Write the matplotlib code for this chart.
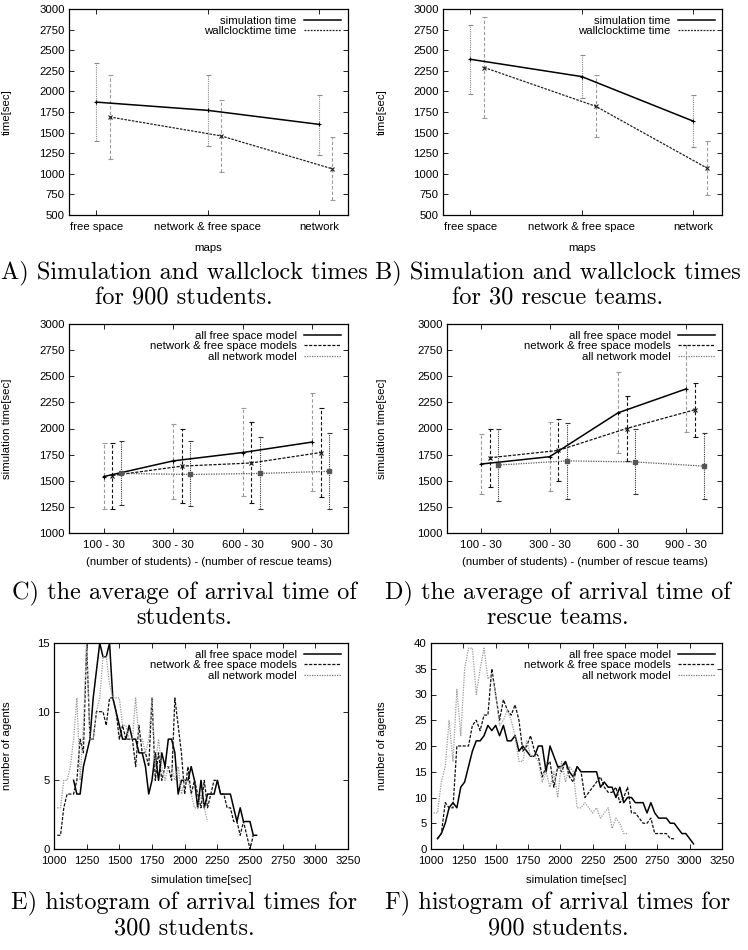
import numpy as np
import matplotlib
matplotlib.use("Agg")
import matplotlib.pyplot as plt
from matplotlib.lines import Line2D

plt.rcParams['font.family'] = ['Liberation Sans', 'DejaVu Sans']
plt.rcParams['font.size'] = 8.2

# --- A / B : simulation vs wallclock per map type ---
maps = ["free space", "network & free space", "network"]

a_sim = [1870, 1770, 1600]
a_sim_lo = [1400, 1340, 1230]
a_sim_hi = [2340, 2200, 1960]
a_wall = [1690, 1460, 1060]
a_wall_lo = [1180, 1020, 680]
a_wall_hi = [2200, 1900, 1450]

b_sim = [2390, 2180, 1640]
b_sim_lo = [1970, 1920, 1330]
b_sim_hi = [2800, 2440, 1960]
b_wall = [2290, 1820, 1070]
b_wall_lo = [1680, 1450, 740]
b_wall_hi = [2900, 2200, 1400]

# --- C / D : average arrival time per population ---
groups = ["100 - 30", "300 - 30", "600 - 30", "900 - 30"]

c_free = [1540, 1690, 1770, 1870]
c_free_lo = [1230, 1330, 1350, 1400]
c_free_hi = [1860, 2040, 2200, 2340]
c_mix = [1550, 1640, 1670, 1770]
c_mix_lo = [1230, 1290, 1290, 1340]
c_mix_hi = [1860, 2000, 2060, 2200]
c_net = [1570, 1560, 1570, 1590]
c_net_lo = [1270, 1260, 1230, 1230]
c_net_hi = [1880, 1880, 1920, 1960]

d_free = [1660, 1730, 2150, 2380]
d_free_lo = [1370, 1400, 1770, 1970]
d_free_hi = [1950, 2060, 2540, 2800]
d_mix = [1720, 1790, 2000, 2180]
d_mix_lo = [1440, 1500, 1690, 1920]
d_mix_hi = [2000, 2090, 2310, 2440]
d_net = [1650, 1690, 1680, 1640]
d_net_lo = [1310, 1330, 1370, 1330]
d_net_hi = [2000, 2050, 2000, 1960]

# --- E / F : histograms of arrival times ---
e_step = 25
e_free_start, e_mix_start, e_net_start = 1150, 1025, 1025
e_free = [5, 4, 4, 6, 7, 8, 11, 13, 15, 14, 14, 15, 11, 10, 9, 8, 8, 9, 8, 8,
          7, 7, 6, 4, 5, 7, 5, 7, 6, 8, 8, 7, 4, 5,
          5, 5, 6, 5, 3, 5, 3, 4, 4, 4, 5, 4, 4, 4, 4, 3, 2, 3, 2, 2, 2, 1, 1]
e_mix = [1, 1, 3, 4, 4, 4, 5, 8, 7, 15, 8, 8, 10, 10, 10, 9, 11, 11, 10, 8,
         9, 8, 8, 8, 6, 9, 7, 7, 6, 11, 5, 7, 5, 6, 6, 5, 11, 9, 7, 4,
         6, 4, 5, 4, 3, 5, 3, 4, 5, 5, 4, 4, 3, 3, 2, 2, 1, 2, 1, 0, 1]
e_net = [3, 3, 5, 5, 6, 8, 11, 5, 9, 15, 8, 8, 10, 11, 14, 14, 12, 11, 11, 11,
         9, 9, 8, 8, 11, 8, 8, 7, 8, 11, 6, 8, 6, 5, 6, 6, 5, 6, 4, 5,
         5, 4, 3, 3, 4, 3, 2]

f_step = 30
f_free_start, f_mix_start, f_net_start = 1050, 1050, 1020
f_free = [2, 3, 5, 8, 9, 8, 12, 13, 16, 19, 21, 21, 22, 24, 23, 24, 22, 24, 21, 21,
          22, 19, 20, 19, 18, 18, 20, 20, 15, 20, 18, 16, 16, 17, 15, 14, 16, 15, 15, 15,
          15, 15, 12, 13, 12, 12, 10, 12, 9, 10, 10, 9, 9, 9, 7, 9, 7, 6, 6, 6,
          5, 5, 4, 3, 3, 2, 1]
f_mix = [2, 3, 9, 8, 8, 20, 20, 20, 20, 24, 25, 23, 26, 26, 35, 30, 25, 29, 27, 26,
         28, 25, 19, 20, 22, 19, 18, 14, 16, 17, 12, 16, 15, 17, 14, 13, 16, 15, 10, 11,
         12, 13, 14, 12, 11, 11, 12, 9, 10, 12, 7, 7, 6, 5, 5, 6, 3, 3, 3, 3, 2, 2]
f_net = [7, 7, 13, 16, 25, 17, 31, 22, 35, 39, 39, 30, 35, 39, 33, 34, 30, 24, 25, 27,
         25, 22, 17, 17, 21, 18, 18, 17, 13, 15, 12, 15, 10, 17, 13, 16, 15, 8, 8, 9,
         8, 7, 8, 6, 7, 8, 4, 6, 5, 3, 3]

W, H = 748, 950
fig = plt.figure(figsize=(W / 100, H / 100), dpi=100)


def box(l, r, t, b):
    return [l / W, 1 - b / H, (r - l) / W, (b - t) / H]


def style_axes(ax):
    ax.tick_params(direction='in', top=True, right=True, length=3.5, width=0.6,
                   labelsize=8.2, pad=3)
    ax.tick_params(axis='x', pad=5)
    for s in ax.spines.values():
        s.set_linewidth(0.9)


def errbars(ax, x, lo, hi, color, ls):
    y = [(l + h) / 2 for l, h in zip(lo, hi)]
    err = [[m - l for m, l in zip(y, lo)], [h - m for m, h in zip(y, hi)]]
    eb = ax.errorbar(x, y, yerr=err, fmt='none', ecolor=color, elinewidth=0.8,
                     capsize=1.8, capthick=0.8)
    eb[2][0].set_linestyle(ls)


def times_panel(ax, sim, slo, shi, wall, wlo, whi, off):
    x = np.arange(len(maps))
    errbars(ax, x, slo, shi, '#8a8a8a', (0, (1, 1)))
    errbars(ax, x + off, wlo, whi, '#9a9a9a', (0, (3, 2)))
    ax.plot(x, sim, color='black', lw=1.1, marker='+', ms=3, mew=0.8)
    ax.plot(x + off, wall, color='#222222', lw=0.9, ls=(0, (2, 1)), marker='x', ms=2.5, mew=0.8)
    ax.set_xlim(-0.245, 2.26)
    ax.set_ylim(500, 3000)
    ax.set_yticks(np.arange(500, 3001, 250))
    ax.set_xticks(x)
    ax.set_xticklabels(maps)
    ax.set_xlabel("maps")
    ax.set_ylabel("time[sec]")
    hs = [Line2D([], [], color='black', lw=1.1),
          Line2D([], [], color='#222222', lw=0.9, ls=(0, (1.5, 1)))]
    ax.legend(hs, ["simulation time", "wallclocktime time"], loc='upper right',
              frameon=False, markerfirst=False, handlelength=3.3, handletextpad=0.6,
              labelspacing=0.05, borderaxespad=0.2, fontsize=8.2)
    style_axes(ax)


def avg_panel(ax, free, flo, fhi, mix, mlo, mhi, net, nlo, nhi):
    x = np.arange(len(groups))
    errbars(ax, x, flo, fhi, '#9a9a9a', (0, (3, 2)))
    errbars(ax, x + 0.125, mlo, mhi, '#111111', (0, (3, 2)))
    errbars(ax, x + 0.25, nlo, nhi, '#333333', (0, (1, 1)))
    ax.plot(x, free, color='black', lw=1.1, marker='+', ms=3, mew=0.8)
    ax.plot(x + 0.125, mix, color='#111111', lw=0.9, ls=(0, (2.5, 1.2)), marker='x', ms=2.5, mew=0.8)
    ax.plot(x + 0.25, net, color='#555555', lw=0.9, ls=(0, (1, 1)), marker='s', ms=2.5)
    ax.set_xlim(-0.5, 3.52)
    ax.set_ylim(1000, 3000)
    ax.set_yticks(np.arange(1000, 3001, 250))
    ax.set_xticks(x)
    ax.set_xticklabels(groups)
    ax.set_xlabel("(number of students) - (number of rescue teams)")
    ax.set_ylabel("simulation time[sec]")
    model_legend(ax)
    style_axes(ax)


def model_legend(ax):
    hs = [Line2D([], [], color='black', lw=1.1),
          Line2D([], [], color='#111111', lw=0.9, ls=(0, (2.5, 1.2))),
          Line2D([], [], color='#777777', lw=0.9, ls=(0, (1, 1)))]
    ax.legend(hs, ["all free space model", "network & free space models", "all network model"],
              loc='upper right', frameon=False, markerfirst=False, handlelength=3.3,
              handletextpad=0.6, labelspacing=0.05, borderaxespad=0.2, fontsize=8.2)


def hist_panel(ax, step, series, ymax, ystep):
    cols = ['black', '#111111', '#999999']
    lss = ['-', (0, (2.5, 1.2)), (0, (1, 1))]
    lws = [1.1, 0.9, 0.9]
    for (start, vals), c, ls, lw in zip(series, cols, lss, lws):
        t = start + step * np.arange(len(vals))
        ax.plot(t, vals, color=c, ls=ls, lw=lw)
    ax.set_xlim(1000, 3250)
    ax.set_ylim(0, ymax)
    ax.set_xticks(np.arange(1000, 3251, 250))
    ax.set_yticks(np.arange(0, ymax + 1, ystep))
    ax.set_xlabel("simulation time[sec]")
    ax.set_ylabel("number of agents")
    model_legend(ax)
    style_axes(ax)


axA = fig.add_axes(box(69, 348, 9, 215))
times_panel(axA, a_sim, a_sim_lo, a_sim_hi, a_wall, a_wall_lo, a_wall_hi, 0.12)
axB = fig.add_axes(box(443, 722, 9, 215))
times_panel(axB, b_sim, b_sim_lo, b_sim_hi, b_wall, b_wall_lo, b_wall_hi, 0.125)

axC = fig.add_axes(box(69, 348, 324, 533))
avg_panel(axC, c_free, c_free_lo, c_free_hi, c_mix, c_mix_lo, c_mix_hi, c_net, c_net_lo, c_net_hi)
axD = fig.add_axes(box(447, 722, 324, 533))
avg_panel(axD, d_free, d_free_lo, d_free_hi, d_mix, d_mix_lo, d_mix_hi, d_net, d_net_lo, d_net_hi)

axE = fig.add_axes(box(54, 348, 643, 849))
hist_panel(axE, e_step, [(e_free_start, e_free), (e_mix_start, e_mix), (e_net_start, e_net)], 15, 5)
axF = fig.add_axes(box(431, 722, 643, 849))
hist_panel(axF, f_step, [(f_free_start, f_free), (f_mix_start, f_mix), (f_net_start, f_net)], 40, 5)

# label positions
for ax, lx in [(axA, -0.204), (axB, -0.2), (axC, -0.204), (axD, -0.218), (axE, -0.143), (axF, -0.151)]:
    ax.yaxis.set_label_coords(lx, 0.5)
for ax, ly in [(axA, -0.135), (axB, -0.135), (axC, -0.115), (axD, -0.115), (axE, -0.125), (axF, -0.125)]:
    ax.xaxis.set_label_coords(0.5, ly)

captions = [
    (184, 273, "A) Simulation and wallclock times"), (184, 298, "for 900 students."),
    (558, 273, "B) Simulation and wallclock times"), (558, 298, "for 30 rescue teams."),
    (184, 593, "C) the average of arrival time of"), (184, 618, "students."),
    (558, 593, "D) the average of arrival time of"), (558, 618, "rescue teams."),
    (184, 903, "E) histogram of arrival times for"), (184, 928, "300 students."),
    (558, 903, "F) histogram of arrival times for"), (558, 928, "900 students."),
]
for x, y, s in captions:
    fig.text(x / W, 1 - y / H, s, ha='center', va='center', fontsize=17.5,
             family=['cmr10', 'DejaVu Serif'])

fig.savefig("out.png", dpi=100)
